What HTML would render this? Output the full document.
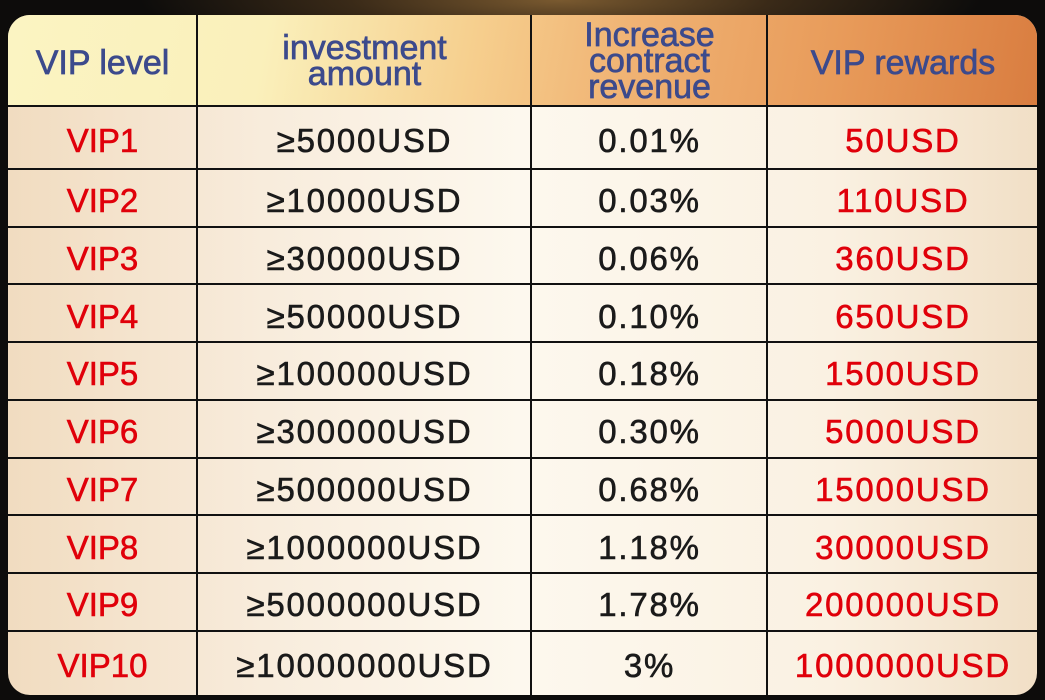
<!DOCTYPE html>
<html><head><meta charset="utf-8"><style>
html,body{margin:0;padding:0}
body{width:1045px;height:700px;overflow:hidden;background:radial-gradient(ellipse 420px 60px at 560px 0px,#7a5a30 0%,#3a2a18 50%,#0d0c0b 100%),#0d0c0b;position:relative;font-family:"Liberation Sans",Arial,sans-serif}
#tbl{position:absolute;left:8px;top:15px;width:1029px;height:680px;border-radius:22px;overflow:hidden;background:linear-gradient(90deg,#f1dcc0 0%,#f8ecdc 25%,#fdf8ee 50%,#faf1e2 80%,#f1dfc6 100%)}
#head{position:absolute;left:0;top:0;width:1029px;height:91px;background:linear-gradient(100deg,#fbf4c2 0%,#faf0bb 25%,#f6cf8e 45%,#f0b374 60%,#e89b5a 80%,#d97d40 100%)}
.h{position:absolute;top:0;height:91px;display:flex;align-items:center;justify-content:center;text-align:center;color:#3c4a8c;font-size:34px;line-height:26px;-webkit-text-stroke:0.7px #3c4a8c}
.vl{position:absolute;top:0;width:2px;height:680px;background:#111}
.hl{position:absolute;left:0;width:1029px;height:2px;background:#111}
.c{position:absolute;display:flex;align-items:center;justify-content:center;font-size:33px;color:#1a1a1a;-webkit-text-stroke:0.6px #1a1a1a;padding-top:6px;box-sizing:border-box;letter-spacing:1.8px}
.r{color:#e0000a;-webkit-text-stroke:0.6px #e0000a}
.first{letter-spacing:0}
</style></head><body>
<div id="tbl">
<div id="head">
<div class="h" style="left:0;width:189px;padding-top:4px;box-sizing:border-box">VIP level</div>
<div class="h" style="left:191px;width:331px">investment<br>amount</div>
<div class="h" style="left:524px;width:235px">Increase<br>contract<br>revenue</div>
<div class="h" style="left:761px;width:268px;padding-top:4px;box-sizing:border-box">VIP rewards</div>
</div>
<div class="vl" style="left:188px"></div>
<div class="vl" style="left:522px"></div>
<div class="vl" style="left:758px"></div>
</div>
<script>
const levels=["VIP1","VIP2","VIP3","VIP4","VIP5","VIP6","VIP7","VIP8","VIP9","VIP10"];
const amounts=["≥5000USD","≥10000USD","≥30000USD","≥50000USD","≥100000USD","≥300000USD","≥500000USD","≥1000000USD","≥5000000USD","≥10000000USD"];
const revenues=["0.01%","0.03%","0.06%","0.10%","0.18%","0.30%","0.68%","1.18%","1.78%","3%"];
const rewards=["50USD","110USD","360USD","650USD","1500USD","5000USD","15000USD","30000USD","200000USD","1000000USD"];
const tbl=document.getElementById('tbl');
const tops=[91,154];
for(let i=2;i<=levels.length;i++)tops.push(154+(i-1)*57.7);
tops[levels.length]=680;
const cols=[[0,189],[191,331],[524,235],[761,268]];
for(let i=0;i<levels.length;i++){
  const top=tops[i],h=tops[i+1]-top;
  const line=document.createElement('div');line.className='hl';line.style.top=(top-1)+'px';
  
  
  tbl.appendChild(line);
  const vals=[levels[i],amounts[i],revenues[i],rewards[i]];
  const names=['vip-level-cell','investment-cell','revenue-cell','reward-cell'];
  for(let j=0;j<4;j++){
    const d=document.createElement('div');d.className='c'+((j==0||j==3)?' r':'')+(j==0?' first':'');
    d.style.left=cols[j][0]+'px';d.style.width=cols[j][1]+'px';d.style.top=(top+1)+'px';d.style.height=(h-1)+'px';
    d.textContent=vals[j];
    
    
    tbl.appendChild(d);
  }
}
</script>
</body></html>
